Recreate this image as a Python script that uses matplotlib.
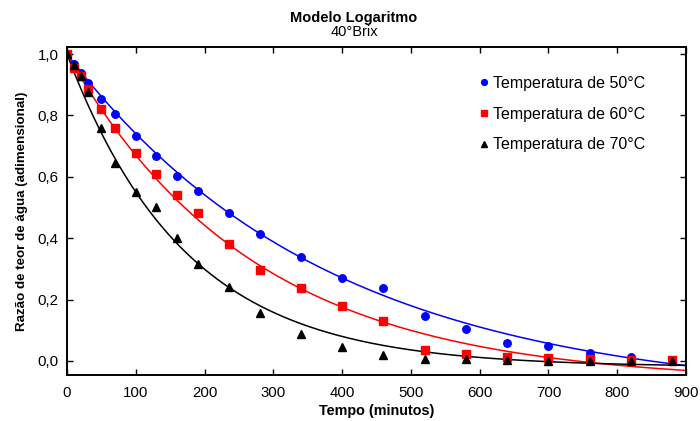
import numpy as np
import matplotlib
matplotlib.use('Agg')
import matplotlib.pyplot as plt
from matplotlib.ticker import FuncFormatter, MultipleLocator

plt.rcParams['font.family'] = ['Liberation Sans', 'DejaVu Sans']

# tempos de secagem (min)
tempo = [0, 10, 20, 30, 50, 70, 100, 130, 160, 190, 235, 280, 340, 400,
         460, 520, 580, 640, 700, 760, 820, 880]

# razao de teor de agua observada
rx_50 = [1.0, 0.967, 0.937, 0.906, 0.855, 0.805, 0.734, 0.667, 0.604, 0.553,
         0.483, 0.415, 0.340, 0.269, 0.238, 0.147, 0.104, 0.057, 0.047, 0.026,
         0.013, 0.0]
rx_60 = [1.0, 0.953, 0.929, 0.886, 0.821, 0.760, 0.678, 0.608, 0.541, 0.482,
         0.382, 0.296, 0.238, 0.178, 0.130, 0.037, 0.022, 0.013, 0.010, 0.005,
         0.003, 0.002]
rx_70 = [1.0, 0.964, 0.928, 0.875, 0.758, 0.645, 0.550, 0.500, 0.400, 0.316,
         0.240, 0.155, 0.088, 0.046, 0.019, 0.007, 0.007, 0.003, 0.001, 0.001,
         0.0, 0.0]

# parametros do modelo logaritmo  RX = a*exp(-k*t) + c
par_50 = (1.12, 0.002636, -0.12)
par_60 = (1.07, 0.003686, -0.07)
par_70 = (1.02, 0.005815, -0.02)

rotulos = ['Temperatura de 50°C', 'Temperatura de 60°C', 'Temperatura de 70°C']


def logaritmo(t, a, k, c):
    return a * np.exp(-k * t) + c


fig = plt.figure(figsize=(7, 4.21), dpi=100)
ax = fig.add_axes([67 / 700, 1 - 375 / 421, 619 / 700, 328 / 421])

t = np.linspace(0, 900, 400)
series = [
    (rx_50, par_50, 'blue', 'o', 5.4, 4.2),
    (rx_60, par_60, 'red', 's', 5.4, 4.2),
    (rx_70, par_70, 'black', '^', 5.7, 4.4),
]
handles = []
for (rx, par, cor, mk, ms, ms_leg), rot in zip(series, rotulos):
    ax.plot(t, logaritmo(t, *par), color=cor, lw=1.1, zorder=2)
    ax.plot(tempo, rx, linestyle='none', marker=mk, ms=ms, color=cor,
            mec=cor, zorder=3, clip_on=True)
    h, = ax.plot([], [], linestyle='none', marker=mk, ms=ms_leg, color=cor,
                 label=rot)
    handles.append(h)

ax.set_xlim(0, 900)
ax.set_ylim(-0.046, 1.023)
ax.xaxis.set_major_locator(MultipleLocator(100))
ax.yaxis.set_major_locator(MultipleLocator(0.2))
ax.yaxis.set_major_formatter(FuncFormatter(lambda v, p: f'{v:.1f}'.replace('.', ',').replace('-0,0', '0,0')))
ax.tick_params(direction='in', top=True, right=True, length=4, width=1,
               labelsize=10.8)
ax.tick_params(axis='x', pad=8)
ax.tick_params(axis='y', pad=6)
for s in ax.spines.values():
    s.set_linewidth(1.4)

ax.set_xlabel('Tempo (minutos)', fontsize=10.4, fontweight='bold', labelpad=3)
ax.set_ylabel('Razão de teor de água (adimensional)', fontsize=9.6,
              fontweight='bold', labelpad=7)

fig.text(354 / 700, 1 - 18 / 421, 'Modelo Logaritmo', ha='center', va='center',
         fontsize=10.5, fontweight='bold')
fig.text(354 / 700, 1 - 32 / 421, '40°Brix', ha='center', va='center',
         fontsize=10.5)

ax.legend(handles=handles, loc='upper left', frameon=False,
          bbox_to_anchor=(471 / 700, 1 - 68 / 421),
          bbox_transform=fig.transFigure, fontsize=11.5, handlelength=0.6,
          handletextpad=0.25, labelspacing=0.98, borderpad=0)

fig.savefig('out.png', dpi=100)
